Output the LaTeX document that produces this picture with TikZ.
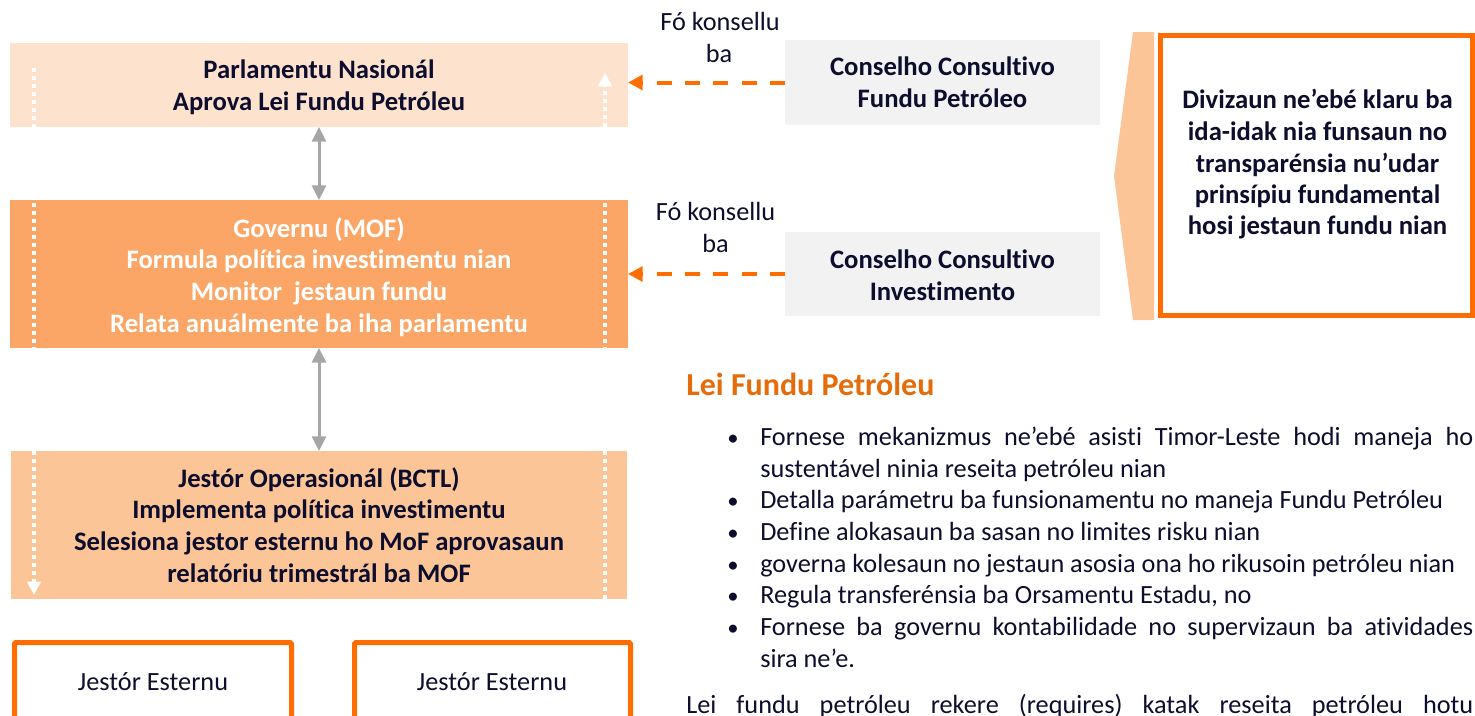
\documentclass[tikz,border=0pt]{standalone}
\usepackage{fontspec}
\setmainfont[Ligatures={NoCommon}]{Carlito}
\usetikzlibrary{arrows.meta}
\definecolor{pboxa}{HTML}{FDE3CE}
\definecolor{pboxb}{HTML}{FBA666}
\definecolor{pboxc}{HTML}{FCC597}
\definecolor{ccgray}{HTML}{F2F2F2}
\definecolor{orng}{HTML}{FF6D00}
\definecolor{headc}{HTML}{E46C0A}
\definecolor{navy}{HTML}{0D0D2D}
\definecolor{garr}{HTML}{A6A6A6}
\newcommand\bxf{\fontsize{20}{24}\selectfont\bfseries}
\newcommand\rgf{\fontsize{19.7}{24}\selectfont}
\begin{document}
\begin{tikzpicture}[x=0.75pt,y=-0.75pt,
  box/.style={draw=none, inner sep=0pt, outer sep=0pt},
  obox/.style={box, draw=orng, line width=3.75pt},
  ln/.style={anchor=base, inner sep=0pt, font=\bxf, text=navy},
  wln/.style={ln, text=white},
  rln/.style={anchor=base, inner sep=0pt, font=\rgf, text=navy},
  bul/.style={anchor=base, inner sep=0pt, font=\fontsize{17}{20}\selectfont, text=navy},
  btxt/.style={anchor=base west, inner sep=0pt, font=\rgf, text=navy},
  wdot/.style={draw=white, line width=3pt, dash pattern=on 3pt off 3pt},
  wtip/.style={-{Triangle[width=10pt,length=10pt]}},
  garrow/.style={draw=garr, line width=2.25pt, {Triangle[width=10.5pt,length=11pt]}-{Triangle[width=10.5pt,length=11pt]}},
  darrow/.style={draw=orng, line width=3pt, dash pattern=on 11.25pt off 10pt, -{Triangle[width=11pt,length=11pt]}}
]
\useasboundingbox (0,0) rectangle (1475,715);
\clip (0,0) rectangle (1475,715);

% boxes
\node[box, fill=pboxa, minimum width=463.5pt, minimum height=63pt] (parl) at (319,85) {};
\node[box, fill=pboxb, minimum width=463.5pt, minimum height=111pt] (gov) at (319,274) {};
\node[box, fill=pboxc, minimum width=462pt, minimum height=111pt] (bctl) at (319,525) {};
\node[box, fill=ccgray, minimum width=236.25pt, minimum height=63.75pt] (cc1) at (942.5,82.5) {};
\node[box, fill=ccgray, minimum width=236.25pt, minimum height=63pt] (cc2) at (942.5,274) {};
\node[obox, minimum width=234pt, minimum height=210pt] (div) at (1316.5,175.5) {};
\node[obox, rounded corners=1pt, minimum width=207.75pt, minimum height=88pt] (je1) at (153,701.25) {};
\node[obox, rounded corners=1pt, minimum width=207pt, minimum height=88pt] (je2) at (492.5,701.25) {};

% callout
\fill[pboxc] (1133,32) -- (1154,32) -- (1154,320) -- (1133,320) -- (1114,176) -- cycle;

% white dotted lines
\draw[wdot] (34,68) -- (34,127);
\draw[wdot, wtip] (605,127) -- (605,73);
\draw[wdot] (34,203) -- (34,348);
\draw[wdot] (605,203) -- (605,348);
\draw[wdot, wtip] (34,451) -- (34,595);
\draw[wdot] (605,451) -- (605,599);

% connectors
\draw[garrow] (parl.south) -- (gov.north);
\draw[garrow] (gov.south) -- (bctl.north);
\draw[darrow] (cc1.west) -- (cc1.west -| parl.east);
\draw[darrow] (cc2.west) -- (cc2.west -| gov.east);

% texts
\node[ln] (p1) at (319,78) {Parlamentu Nasionál};
\node[ln] (p2) at (319,110) {Aprova Lei Fundu Petróleu};
\node[wln] (g1) at (319,237) {Governu (MOF)};
\node[wln] (g2) at (319,268) {Formula política investimentu nian};
\node[wln] (g3) at (319,300) {Monitor\ \ jestaun fundu};
\node[wln] (g4) at (319,332) {Relata anuálmente ba iha parlamentu};
\node[ln] (b1) at (319,487) {Jestór Operasionál (BCTL)};
\node[ln] (b2) at (319,518) {Implementa política investimentu};
\node[ln] (b3) at (319,550) {Selesiona jestor esternu ho MoF aprovasaun};
\node[ln] (b4) at (319,582) {relatóriu trimestrál ba MOF};
\node[ln] (c1a) at (942.5,75) {Conselho Consultivo};
\node[ln] (c1b) at (942.5,107) {Fundu Petróleo};
\node[ln] (c2a) at (942.5,268) {Conselho Consultivo};
\node[ln] (c2b) at (942.5,300) {Investimento};
\node[rln] (l1a) at (720,30) {Fó konsellu};
\node[rln] (l1b) at (719,62) {ba};
\node[rln] (l2a) at (715.5,220) {Fó konsellu};
\node[rln] (l2b) at (715.5,252) {ba};
\node[ln] (d1) at (1317.5,108) {Divizaun ne’ebé klaru ba};
\node[ln] (d2) at (1317.5,140) {ida-idak nia funsaun no};
\node[ln] (d3) at (1317.5,172) {transparénsia nu’udar};
\node[ln] (d4) at (1317.5,203) {prinsípiu fundamental};
\node[ln] (d5) at (1317.5,234) {hosi jestaun fundu nian};
\node[rln] (j1) at (153,690) {Jestór Esternu};
\node[rln] (j2) at (492,690) {Jestór Esternu};

% law section
\node[anchor=base west, inner sep=0pt, font=\fontsize{24}{28}\selectfont\bfseries, text=headc] (head) at (686,395) {Lei Fundu Petróleu};
\node[bul] (u1) at (733,445) {•};
\node[btxt] (t1a) at (760,445) {\makebox[534.75pt][s]{Fornese mekanizmus ne’ebé asisti Timor-Leste hodi maneja ho}};
\node[btxt] (t1b) at (760,477) {sustentável ninia reseita petróleu nian};
\node[bul] (u2) at (733,508) {•};
\node[btxt] (t2) at (760,508) {Detalla parámetru ba funsionamentu no maneja Fundu Petróleu};
\node[bul] (u3) at (733,540) {•};
\node[btxt] (t3) at (760,540) {Define alokasaun ba sasan no limites risku nian};
\node[bul] (u4) at (733,572) {•};
\node[btxt] (t4) at (760,572) {governa kolesaun no jestaun asosia ona ho rikusoin petróleu nian};
\node[bul] (u5) at (733,603) {•};
\node[btxt] (t5) at (760,603) {Regula transferénsia ba Orsamentu Estadu, no};
\node[bul] (u6) at (733,635) {•};
\node[btxt] (t6a) at (760,635) {\makebox[534.75pt][s]{Fornese ba governu kontabilidade no supervizaun ba atividades}};
\node[btxt] (t6b) at (760,667) {sira ne’e.};
\node[btxt] (para) at (686,713) {\makebox[590.25pt][s]{Lei fundu petróleu rekere (requires) katak reseita petróleu hotu}};
\end{tikzpicture}
\end{document}
